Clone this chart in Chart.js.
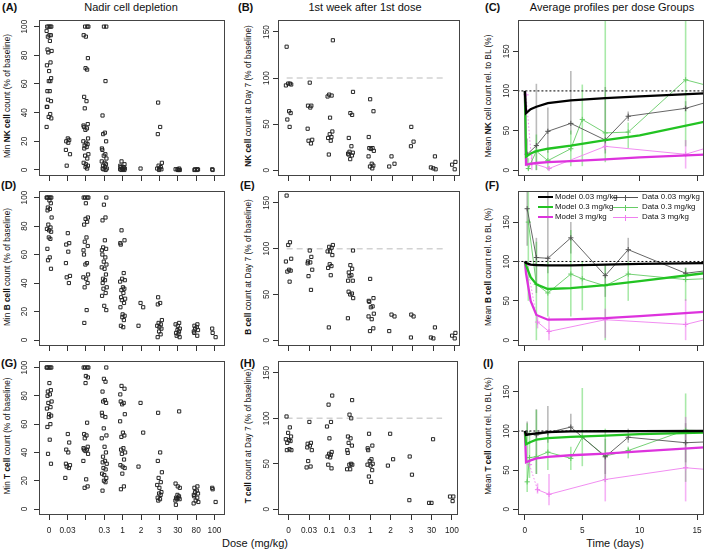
<!DOCTYPE html>
<html>
<head>
<meta charset="utf-8">
<script src="https://cdn.jsdelivr.net/npm/chart.js@4.4.1/dist/chart.umd.min.js"></script>
<style>
  body { margin: 0; background: #fff; width: 709px; height: 551px; position: relative; overflow: hidden;
         font-family: "Liberation Sans", Arial, Helvetica, sans-serif; color: #111; }
  canvas { position: absolute; }
  .t { position: absolute; white-space: nowrap; line-height: 1; }
  .ttl { font-size: 11px; transform: translate(-50%, -50%); }
  .lab { font-size: 11px; font-weight: bold; transform: translateY(-50%); }
  .yt { font-size: 8.3px; transform: translate(-50%, -50%) rotate(-90deg); }
  .leg { font-size: 7.9px; transform: translateY(-50%); }
  .ln { position: absolute; }
</style>
</head>
<body>
<div class="t lab" style="left:2px;top:7px">(A)</div>
<div class="t lab" style="left:238px;top:7px">(B)</div>
<div class="t lab" style="left:485px;top:7px">(C)</div>
<div class="t lab" style="left:1px;top:185px">(D)</div>
<div class="t lab" style="left:240px;top:185px">(E)</div>
<div class="t lab" style="left:485px;top:185px">(F)</div>
<div class="t lab" style="left:1px;top:363px">(G)</div>
<div class="t lab" style="left:240px;top:363px">(H)</div>
<div class="t lab" style="left:483px;top:363px">(I)</div>

<div class="t ttl" style="left:131px;top:7px">Nadir cell depletion</div>
<div class="t ttl" style="left:365px;top:7px">1st week after 1st dose</div>
<div class="t ttl" style="left:612px;top:7px">Average profiles per dose Groups</div>

<div class="t yt" style="left:7px;top:96px">Min <b>NK cell</b> count (% of baseline)</div>
<div class="t yt" style="left:7px;top:267px">Min <b>B cell</b> count (% of baseline)</div>
<div class="t yt" style="left:7px;top:436px">Min <b>T cell</b> count (% of baseline)</div>
<div class="t yt" style="left:248px;top:96px"><b>NK cell</b> count at Day 7 (% of baseline)</div>
<div class="t yt" style="left:248px;top:267px"><b>B cell</b> count at Day 7 (% of baseline)</div>
<div class="t yt" style="left:248px;top:436px"><b>T cell</b> count at Day 7 (% of baseline)</div>
<div class="t yt" style="left:488px;top:96px">Mean <b>NK</b> cell count rel. to BL (%)</div>
<div class="t yt" style="left:488px;top:267px">Mean <b>B cell</b> count rel. to BL (%)</div>
<div class="t yt" style="left:488px;top:436px">Mean <b>T cell</b> count rel. to BL (%)</div>

<div class="t ttl" style="left:255px;top:543px">Dose (mg/kg)</div>
<div class="t ttl" style="left:615px;top:543px">Time (days)</div>

<script>
const FONT = '"Liberation Sans", Arial, Helvetica, sans-serif';
Chart.defaults.font.family = FONT;

// dose categories and tick labels
const nadirDoses = ['0', '0.03', '0.1', '0.3', '1', '2', '3', '30', '80', '100'];
const nadirTickLabels = ['0', '0.03', '', '0.3', '1', '2', '3', '30', '80', '100'];
const day7Doses = ['0', '0.03', '0.1', '0.3', '1', '2', '3', '30', '100'];

// nadir (% of baseline), one list per dose
const nkNadir = [
  [100,100,100,100,97,94,94,93,90,84,83,82,75,73,69,64,62,62,55,55,49,48,44,44,39,37,36,30],
  [22,21,20,19,14,11,3],
  [100,100,100,94,93,78,71,70,51,48,43,32,31,30,29,28,22,20,19,18,17,16,15,11,10,8,5,4,3,2,1],
  [100,100,62,38,26,25,20,15,14,11,10,8,6,5,4,3,2,1,1,0.5,0],
  [6,4,3,2,2,1,1,0.5,0.5,0,0,1],
  [1],
  [47,30,25,5,3,2,1,1,0.5,0],
  [1,0.5,0,0,0.5,0],
  [0.5,0,0,0.5,0.3],
  [0.5,0]
];
const bNadir = [
  [100,100,100,100,100,98,96,93,92,91,86,81,79,78,77,76,72,71,64,58,56,50],
  [75,68,67,62,54,45,44,40],
  [100,100,100,100,96,86,85,83,81,72,69,66,63,60,54,53,46,44,43,40,37,21,12],
  [100,95,86,84,70,65,64,63,60,58,55,53,51,50,46,43,42,40,37,36,33,31,24,21],
  [77,70,68,67,47,43,42,41,37,36,35,33,30,29,28,26,23,18,17,16,14,10,9],
  [26,23,10],
  [30,26,25,14,12,11,10,9,8,6,4,2],
  [12,11,10,8,7,6,5,4,3,2],
  [11,10,9,8,7,6,5,3],
  [8,5,2]
];
const tNadir = [
  [100,100,100,100,100,89,84,83,81,80,76,75,72,71,67,66,65,60,58,49,39,32],
  [53,47,42,40,32,31,30,29,22],
  [100,100,100,100,94,93,89,61,53,52,50,44,43,42,42,41,39,34,21,16,15],
  [100,92,90,83,77,76,75,68,66,65,57,52,50,44,40,37,34,33,32,29,28,25,24,22,20,19,13],
  [87,85,81,76,75,74,67,62,54,52,51,43,42,40,39,35,31,30,29,25,16,14],
  [75,54,30],
  [68,40,34,26,22,19,17,15,12,11,10,8,7,6],
  [69,18,16,15,10,9,8,8,7,7,6,3],
  [16,15,13,12,11,10,9,8,6,5,4],
  [15,14,5]
];

// day 7 counts (% of baseline), one list per dose
const nkDay7 = [
  [134,94,94,93,92,64,62,55,47],
  [95,70,70,68,45,33,32,29],
  [141,82,81,80,57,42,39,36,35,32,17],
  [85,62,60,35,26,20,19,18,17,16,12],
  [77,64,36,24,24,23,21,15,7,5,4,2],
  [15,7,4],
  [47,31,26],
  [15,3,2,1],
  [9,6,1]
];
const bDay7 = [
  [158,107,104,89,86,77,76,75,64],
  [98,91,86,85,84,77,70,55],
  [104,102,101,97,97,93,83,81,79,71,14],
  [98,82,78,74,71,70,65,65,53,51,50,46,24],
  [67,46,43,42,37,36,29,26,23,13,10],
  [28,26,10],
  [28,26,3],
  [14,3,2],
  [8,5,2]
];
const tDay7 = [
  [102,90,84,80,77,76,75,73,66,65,65],
  [96,73,72,70,68,65,53,47,46],
  [125,115,96,91,78,63,61,60,58,57,49,45],
  [120,104,100,80,78,73,70,65,62,50,49,49,44,44],
  [83,70,67,65,55,53,50,49,48,43,36,30],
  [83,55,48],
  [58,38,10],
  [77,7,7],
  [14,14,9]
];

// average profiles: groups 0.03, 0.3, 3 mg/kg
const groups = ['0.03 mg/kg', '0.3 mg/kg', '3 mg/kg'];
const modelT = [0, 0.1, 0.5, 1, 2, 4, 7, 10, 15.6];
const nkModel = [
  [100, 72, 77, 80, 84.5, 88, 91, 93, 97],
  [100, 17, 21, 24, 27, 31, 38, 44, 61],
  [100, 7, 8, 9, 10, 11.5, 13.5, 16, 19.5]
];
const bModel = [
  [100, 98, 96, 95.5, 95, 95, 96, 97, 98],
  [100, 95, 80, 71, 65, 66, 70, 75, 85],
  [100, 85, 50, 32, 26, 26.5, 28, 30.5, 36]
];
const tModel = [
  [100, 95, 96, 97, 98.5, 99.5, 99.7, 99.8, 100],
  [100, 83, 86, 89, 91, 92.5, 94, 96, 98],
  [100, 60, 62.5, 65, 67, 69, 71, 74, 79]
];

const nkDataT = [[0.2,1,2,4,7,9,14,16.5], [0.3,1,2,4,5,7,9,14,16.5], [0.1,0.6,2.1,7,14,16.5]];
const nkDataMean = [[20,31,49,59,38,68,78,88.5], [2,24,12,27,64,47,48,114,104.5], [95,9,2,30,20,31]];
const nkDataLo = [[5,0,22,45,21,62,74,null], [0,0,0,5,5,10,28,30,null], [null,0,0,25,2,null]];
const nkDataHi = [[40,109,79,125,105,74,87,null], [15,45,25,50,108,190,60,190,null], [null,20,5,35,38,null]];

const bDataT = [[0.2,1,2,4,7,9,14,16.5], [0.3,1,2,4,5,7,9,14,16.5], [0.2,1.1,2.1,7,14,16.5]];
const bDataMean = [[167,105,104,130,82,115,85,89.5], [150,71,60,84,78,69,84,77,78.5], [95,23,11,26,20,29]];
const bDataLo = [[120,60,85,110,55,100,80,null], [50,0,30,30,38,0,50,50,null], [null,15,0,3,0,null]];
const bDataHi = [[190,130,190,150,95,130,92,null], [190,125,100,140,100,95,100,92,null], [null,30,30,40,52,null]];

const tDataT = [[0.2,1,2,4,7,9,14,16.5], [0.2,0.4,1,2,4,5,7,9,14,16.5], [0.4,1.1,2.1,7,14,16.5]];
const tDataMean = [[97,95,98,105,67,92,85,86.5], [35,66,67,73,65,92,68,75,101,100], [57,25,19,38,53,50]];
const tDataLo = [[95,45,85,100,45,85,60,null], [22,40,45,50,50,55,35,65,35,null], [null,20,5,10,10,null]];
const tDataHi = [[112,128,132,122,90,103,110,null], [110,100,127,100,80,155,103,80,148,null], [null,33,45,72,118,null]];

const baseline = 100;

// ---- layout / style ----
const COLS = [{ l: 39, r: 228, off: 14 }, { l: 278, r: 463, off: 11.5 }, { l: 518, r: 707, off: 11 }];
const ROWS = [{ t: 17, b: 176 }, { t: 188, b: 346 }, { t: 358, b: 515 }];
const ML = 24;
const JIT = [-0.12,0.07,-0.03,0.14,-0.16,0.02,0.11,-0.08,0.05,-0.1,0.16,-0.05,0.09,-0.14,0,0.13,-0.02,0.08,-0.11,0.04,-0.07,0.12,-0.15];
const MODEL_COL = ['#000000', '#22c322', '#dd33dd'];
const DATA_COL = ['#555555', '#66cc66', '#ef80ef'];
const ERR_COL = ['rgba(60,60,60,0.35)', 'rgba(40,200,40,0.4)', 'rgba(230,60,230,0.4)'];

const frame = {
  id: 'frame',
  afterDraw(chart) {
    const a = chart.chartArea, c = chart.ctx;
    c.save();
    c.strokeStyle = '#444'; c.lineWidth = 1;
    c.strokeRect(Math.round(a.left) + 0.5, Math.round(a.top) + 0.5, Math.round(a.right - a.left) - 1, Math.round(a.bottom - a.top) - 1);
    c.restore();
  }
};
const yLabels = {
  id: 'yLabels',
  afterDraw(chart, args, o) {
    const s = chart.scales.y, c = chart.ctx;
    c.save();
    c.font = '8.3px ' + FONT; c.fillStyle = '#222';
    c.textAlign = 'center'; c.textBaseline = 'middle';
    s.ticks.forEach(t => {
      c.save();
      c.translate(chart.chartArea.left - o.off, s.getPixelForValue(t.value));
      c.rotate(-Math.PI / 2);
      c.fillText(String(t.value), 0, 0);
      c.restore();
    });
    c.restore();
  }
};
const errBars = {
  id: 'errBars',
  beforeDatasetsDraw(chart) {
    const { ctx, chartArea: a, scales: { x, y } } = chart;
    ctx.save();
    ctx.beginPath(); ctx.rect(a.left, a.top, a.right - a.left, a.bottom - a.top); ctx.clip();
    chart.data.datasets.forEach(ds => {
      if (!ds.lo) return;
      ctx.strokeStyle = ds.errColor; ctx.lineWidth = 1.6;
      ds.data.forEach((p, i) => {
        if (ds.lo[i] == null) return;
        const px = x.getPixelForValue(p.x);
        ctx.beginPath();
        ctx.moveTo(px, y.getPixelForValue(ds.lo[i]));
        ctx.lineTo(px, y.getPixelForValue(ds.hi[i]));
        ctx.stroke();
      });
    });
    ctx.restore();
  }
};

function panel(ci, ri, datasets, xs, ys, showX) {
  const c = COLS[ci], r = ROWS[ri];
  const mb = showX ? 24 : 7;
  const w = c.r - c.l + ML + 2, h = r.b - r.t + 2 + mb;
  const cv = document.createElement('canvas');
  cv.width = w; cv.height = h;
  cv.style.left = (c.l - ML) + 'px'; cv.style.top = (r.t - 2) + 'px';
  cv.style.width = w + 'px'; cv.style.height = h + 'px';
  document.body.appendChild(cv);
  const gridOpts = { drawOnChartArea: false, drawTicks: true, tickLength: 5, color: '#333', lineWidth: 1 };
  new Chart(cv, {
    type: 'scatter',
    data: { datasets },
    options: {
      responsive: false, animation: false, events: [],
      layout: { padding: { left: 0, top: 2, right: 2, bottom: 0 } },
      plugins: { legend: { display: false }, tooltip: { enabled: false }, yLabels: { off: c.off } },
      scales: {
        x: {
          type: 'linear', min: xs.min, max: xs.max,
          afterFit: s => { s.height = mb; },
          afterBuildTicks: s => { s.ticks = xs.ticks.map(v => ({ value: v })); },
          grid: gridOpts, border: { display: false },
          ticks: { display: showX, autoSkip: false, maxRotation: 0, minRotation: 0, padding: 6,
                   color: '#222', font: { size: 8.3 }, callback: v => xs.label(v) }
        },
        y: {
          type: 'linear', min: ys.min, max: ys.max,
          afterFit: s => { s.width = ML; },
          afterBuildTicks: s => { s.ticks = ys.ticks.map(v => ({ value: v })); },
          grid: gridOpts, border: { display: false },
          ticks: { display: false }
        }
      }
    },
    plugins: [errBars, frame, yLabels]
  });
}

function dosePoints(lists) {
  const pts = [];
  lists.forEach((vals, i) => vals.forEach((v, j) => pts.push({ x: i + JIT[(j + i * 5) % JIT.length] * 0.85, y: v })));
  return { data: pts, pointStyle: 'rect', pointRadius: 2.25, borderWidth: 1,
           borderColor: '#262626', backgroundColor: 'rgba(0,0,0,0)' };
}
function refLine(x0, x1, color, dash, width) {
  return { data: [{ x: x0, y: baseline }, { x: x1, y: baseline }], showLine: true, pointRadius: 0,
           borderColor: color, borderDash: dash, borderWidth: width };
}

const nadirX = { min: -0.55, max: 9.57, ticks: nadirDoses.map((d, i) => i), label: v => nadirTickLabels[Math.round(v)] };
const nadirY = { min: -4.2, max: 104.6, ticks: [0, 20, 40, 60, 80, 100] };
const day7X = { min: -0.52, max: 8.29, ticks: day7Doses.map((d, i) => i), label: v => day7Doses[Math.round(v)] };
const day7Y = { min: -6.3, max: 163, ticks: [0, 50, 100, 150] };
const timeX = { min: -0.6, max: 15.6, ticks: [0, 5, 10, 15], label: v => String(v) };
const timeY = { min: -7.4, max: 189.5, ticks: [0, 50, 100, 150] };

[nkNadir, bNadir, tNadir].forEach((lists, ri) => panel(0, ri, [dosePoints(lists)], nadirX, nadirY, ri === 2));
[nkDay7, bDay7, tDay7].forEach((lists, ri) =>
  panel(1, ri, [dosePoints(lists), refLine(-0.1, 7.52, '#d2d2d2', [6, 4], 1.6)], day7X, day7Y, ri === 2));

const profiles = [
  [nkModel, nkDataT, nkDataMean, nkDataLo, nkDataHi],
  [bModel, bDataT, bDataMean, bDataLo, bDataHi],
  [tModel, tDataT, tDataMean, tDataLo, tDataHi]
];
profiles.forEach(([model, dt, mean, lo, hi], ri) => {
  const ds = [];
  model.forEach((vals, g) => ds.push({
    label: 'Model ' + groups[g], data: vals.map((v, i) => ({ x: modelT[i], y: v })),
    showLine: true, pointRadius: 0, borderColor: MODEL_COL[g], borderWidth: 2.3
  }));
  ds.push(refLine(-1, 17, '#000', [2, 2], 1));
  dt.forEach((ts, g) => ds.push({
    label: 'Data ' + groups[g], data: ts.map((t, i) => ({ x: t, y: mean[g][i] })),
    lo: lo[g], hi: hi[g], errColor: ERR_COL[g],
    showLine: true, borderColor: DATA_COL[g], borderWidth: 0.9,
    pointStyle: 'cross', pointRadius: 2.6, pointBorderWidth: 1, pointBorderColor: DATA_COL[g],
    segment: g === 2 ? { borderDash: s => s.p0DataIndex === 0 ? [1.5, 2] : undefined } : undefined
  }));
  panel(2, ri, ds, timeX, timeY, ri === 2);
});

// legend of panel (F)
const legRows = [197, 207, 217];
groups.forEach((g, i) => {
  const y = legRows[i];
  const m = document.createElement('div');
  m.className = 'ln';
  m.style.cssText = `left:538px;top:${y - 1}px;width:15px;height:2.3px;background:${MODEL_COL[i]}`;
  document.body.appendChild(m);
  const d = document.createElement('div');
  d.className = 'ln';
  d.style.cssText = `left:613px;top:${y}px;width:25px;height:1px;background:${DATA_COL[i]}`;
  document.body.appendChild(d);
  const p = document.createElement('div');
  p.className = 'ln';
  p.style.cssText = `left:625px;top:${y - 2.5}px;width:1px;height:6px;background:${DATA_COL[i]}`;
  document.body.appendChild(p);
  [['Model ' + g, 555], ['Data ' + g, 642]].forEach(([txt, x]) => {
    const s = document.createElement('div');
    s.className = 't leg';
    s.style.left = x + 'px'; s.style.top = y + 'px';
    s.textContent = txt;
    document.body.appendChild(s);
  });
});
</script>
</body>
</html>
